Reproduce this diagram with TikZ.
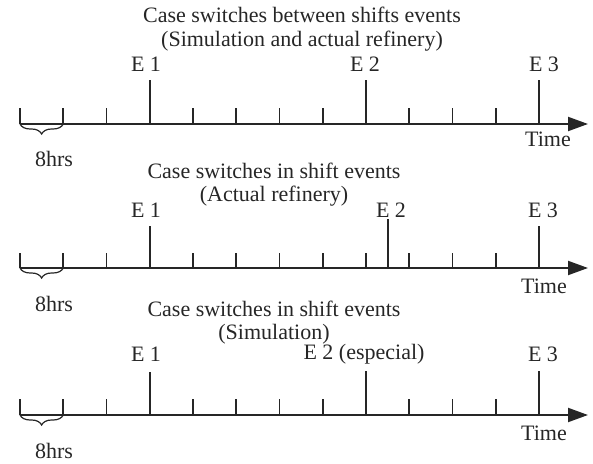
\documentclass[tikz,border=0pt]{standalone}
\usepackage{fontspec}
\setmainfont{Liberation Serif}
\usetikzlibrary{arrows.meta,decorations.pathreplacing}
\begin{document}
\begin{tikzpicture}[x=0.5pt,y=-0.5pt,
  ink/.style={black!85},
  axisline/.style={ink,line width=1pt,-{Triangle[length=10pt,width=7pt]}},
  shorttick/.style={ink,line width=0.8pt},
  eventtick/.style={ink,line width=0.8pt},
  lbl/.style={ink,font=\fontsize{11}{13}\selectfont,inner sep=0pt},
  span/.style={ink,line width=0.6pt,decorate,decoration={brace,mirror,amplitude=5pt}}]
\useasboundingbox (0,0) rectangle (593,464);
\def\dx{43.25}

% ---------- timeline 1: switches between shifts ----------
\node[lbl] (t1a) at (302,15) {Case switches between shifts events};
\node[lbl] (t1b) at (302,41) {(Simulation and actual refinery)};
\coordinate (a1s) at (20,124);
\coordinate (a1e) at (588,124);
\draw[axisline] (a1s) -- (a1e);
\foreach \k in {0,1,2,4,5,6,7,9,10,11}
  \draw[shorttick] (20+\dx*\k,124) -- ++(0,-16);
\coordinate (e1a) at (20+\dx*3,124);
\coordinate (e2a) at (20+\dx*8,124);
\coordinate (e3a) at (20+\dx*12,124);
\draw[eventtick] (e1a) -- ++(0,-44) coordinate (e1at);
\draw[eventtick] (e2a) -- ++(0,-44) coordinate (e2at);
\draw[eventtick] (e3a) -- ++(0,-44) coordinate (e3at);
\node[lbl] (l1a) at (146,64) {E 1};
\node[lbl] (l2a) at (365,64) {E 2};
\node[lbl] (l3a) at (544,64) {E 3};
\node[lbl] (time1) at (548,139) {Time};
\coordinate (b1e) at (20+\dx,124);
\draw[span] (a1s) -- (b1e);
\node[lbl] (h1) at (54,159) {8hrs};

% ---------- timeline 2: switches in shift, actual refinery ----------
\node[lbl] (t2a) at (274,171) {Case switches in shift events};
\node[lbl] (t2b) at (274,196) {(Actual refinery)};
\coordinate (a2s) at (20,268);
\coordinate (a2e) at (588,268);
\draw[axisline] (a2s) -- (a2e);
\foreach \k in {0,1,2,4,5,6,7,8,9,10,11}
  \draw[shorttick] (20+\dx*\k,268) -- ++(0,-15);
\coordinate (e1b) at (20+\dx*3,268);
\coordinate (e2b) at (388,268);
\coordinate (e3b) at (20+\dx*12,268);
\draw[eventtick] (e1b) -- ++(0,-42) coordinate (e1bt);
\draw[eventtick] (e2b) -- ++(0,-49) coordinate (e2bt);
\draw[eventtick] (e3b) -- ++(0,-42) coordinate (e3bt);
\node[lbl] (l1b) at (146,210) {E 1};
\node[lbl] (l2b) at (391,210) {E 2};
\node[lbl] (l3b) at (543,210) {E 3};
\node[lbl] (time2) at (544,286) {Time};
\coordinate (b2e) at (20+\dx,268);
\draw[span] (a2s) -- (b2e);
\node[lbl] (h2) at (54,304) {8hrs};

% ---------- timeline 3: switches in shift, simulation ----------
\node[lbl] (t3a) at (274,309) {Case switches in shift events};
\node[lbl] (t3b) at (274,334) {(Simulation)};
\coordinate (a3s) at (20,415);
\coordinate (a3e) at (588,415);
\draw[axisline] (a3s) -- (a3e);
\foreach \k in {0,1,2,4,5,6,7,9,10,11}
  \draw[shorttick] (20+\dx*\k,415) -- ++(0,-16);
\coordinate (e1c) at (20+\dx*3,415);
\coordinate (e2c) at (20+\dx*8,415);
\coordinate (e3c) at (20+\dx*12,415);
\draw[eventtick] (e1c) -- ++(0,-43) coordinate (e1ct);
\draw[eventtick] (e2c) -- ++(0,-44) coordinate (e2ct);
\draw[eventtick] (e3c) -- ++(0,-44) coordinate (e3ct);
\node[lbl] (l1c) at (146,354) {E 1};
\node[lbl] (l2c) at (364,354) {E 2 (especial)};
\node[lbl] (l3c) at (543,354) {E 3};
\node[lbl] (time3) at (544,433) {Time};
\coordinate (b3e) at (20+\dx,415);
\draw[span] (a3s) -- (b3e);
\node[lbl] (h3) at (54,451) {8hrs};
\end{tikzpicture}
\end{document}
